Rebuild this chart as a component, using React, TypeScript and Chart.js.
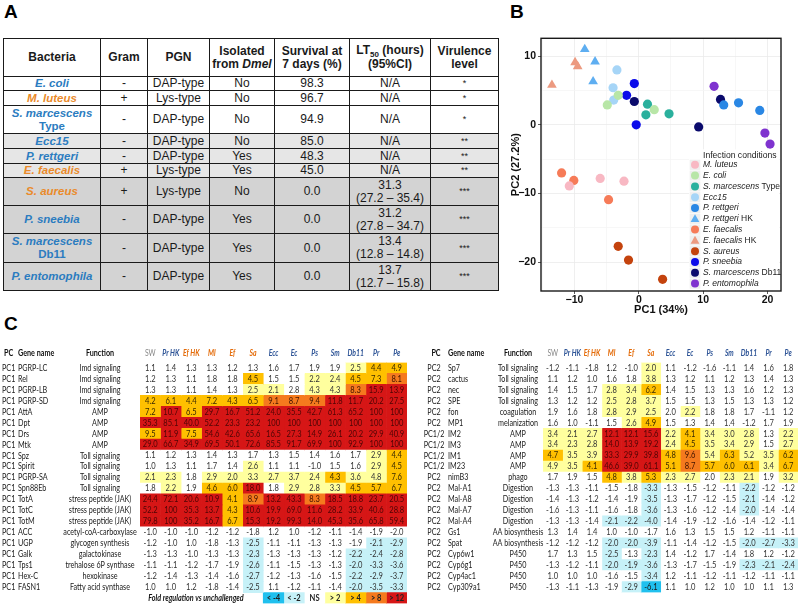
import React, { useEffect, useRef } from "react";
import { Chart, registerables } from "chart.js";
Chart.register(...registerables);

const SANS = '"Liberation Sans", Arial, sans-serif';
const CAL = 'Lato, "Open Sans", sans-serif';

// ---------------- Panel A data ----------------
const tableNames = ["E. coli", "M. luteus", "S. marcescens", "Ecc15", "P. rettgeri", "E. faecalis", "S. aureus", "P. sneebia", "S. marcescens", "P. entomophila"];
const tableNameSuffix = ["", "", "Type", "", "", "", "", "", "Db11", ""];
const gramStain = ["-", "+", "-", "-", "-", "+", "+", "-", "-", "-"];
const pgnType = ["DAP-type", "Lys-type", "DAP-type", "DAP-type", "DAP-type", "Lys-type", "Lys-type", "DAP-type", "DAP-type", "DAP-type"];
const isolatedFromDmel = ["No", "No", "No", "No", "Yes", "Yes", "No", "Yes", "Yes", "Yes"];
const survival7d = [98.3, 96.7, 94.9, 85.0, 48.3, 45.0, 0.0, 0.0, 0.0, 0.0];
const lt50 = [null, null, null, null, null, null, 31.3, 31.2, 13.4, 13.7];
const lt50Low = [null, null, null, null, null, null, 27.2, 27.8, 12.8, 12.7];
const lt50High = [null, null, null, null, null, null, 35.4, 34.7, 14.8, 15.8];
const virulence = [1, 1, 1, 2, 2, 2, 3, 3, 3, 3];

// ---------------- Panel B data ----------------
const pcaItalic = ["M. luteus", "E. coli", "S. marcescens", "Ecc15", "P. rettgeri", "P. rettgeri", "E. faecalis", "E. faecalis", "S. aureus", "P. sneebia", "S. marcescens", "P. entomophila"];
const pcaSuffix = ["", "", " Type", "", "", " HK", "", " HK", "", "", " Db11", ""];
const pcaColors = ["#F8B8C3", "#B8E6A7", "#2AB09D", "#A6D5F7", "#2A87E4", "#5EAEF1", "#F67B58", "#EC9A80", "#C4430D", "#0B0BEA", "#0A0A6C", "#7F33CF"];
const pcaShapes = ["circle", "circle", "circle", "circle", "circle", "triangle", "circle", "triangle", "circle", "circle", "circle", "circle"];
const pc1Values = [
  [-6.0, -2.3, -10.8],
  [-4.9, -3.2, 2.4],
  [1.35, 1.1, 4.7],
  [-3.4, -4.0, -3.9],
  [13.2, 15.5, 18.8],
  [-8.4, -6.8, -7.1],
  [-12.0, -10.1, -4.7],
  [-9.9, -9.5, -13.5],
  [-3.2, -1.6, 3.7],
  [-0.7, -1.9, -0.4],
  [-0.7, 12.7, 9.3],
  [11.7, 19.6, 20.4],
];
const pc2Values = [
  [-7.8, -8.2, -8.9],
  [2.9, 4.3, 2.2],
  [3.0, 1.45, 1.6],
  [8.0, 5.4, 3.6],
  [2.9, 3.2, 2.1],
  [11.0, 9.2, 6.3],
  [-7.0, -8.1, -10.9],
  [9.1, 8.5, 5.8],
  [-17.7, -19.7, -22.5],
  [6.0, 4.3, 0.0],
  [3.4, 3.7, -0.3],
  [5.6, -1.2, -2.8],
];
const pcaXTicks = [-15, -10, -5, 0, 5, 10, 15, 20];
const pcaYTicks = [-20, -15, -10, -5, 0, 5, 10];

// ---------------- Panel C data ----------------
const foldColumns = ["SW", "Pr HK", "Ef HK", "Ml", "Ef", "Sa", "Ecc", "Ec", "Ps", "Sm", "Db11", "Pr", "Pe"];
const foldColumnColors = ["#8a8a8a", "#2F5597", "#E46C0A", "#E46C0A", "#E46C0A", "#E46C0A", "#2F5597", "#2F5597", "#2F5597", "#2F5597", "#2F5597", "#2F5597", "#2F5597"];
const legendLabels = ["< -4", "< -2", "NS", "> 2", "> 4", "> 8", "> 12"];
const legendLevels = "Bb.1234";

const pc1Genes = ["PGRP-LC", "Rel", "PGRP-LB", "PGRP-SD", "AttA", "Dpt", "Drs", "Mtk", "Spz", "Spirit", "PGRP-SA", "Spn88Eb", "TotA", "TotC", "TotM", "ACC", "UGP", "Galk", "Tps1", "Hex-C", "FASN1"];
const pc1Pcs = pc1Genes.map(() => "PC1");
const pc1Functions = ["Imd signaling", "Imd signaling", "Imd signaling", "Imd signaling", "AMP", "AMP", "AMP", "AMP", "Toll signaling", "Toll signaling", "Toll signaling", "Toll signaling", "stress peptide (JAK)", "stress peptide (JAK)", "stress peptide (JAK)", "acetyl-coA-carboxylase", "glycogen synthesis", "galactokinase", "trehalose 6P synthase", "hexokinase", "Fatty acid synthase"];
const pc1Fold = [
  [1.1, 1.4, 1.3, 1.3, 1.2, 1.3, 1.6, 1.7, 1.9, 1.9, 2.5, 4.4, 4.9],
  [1.2, 1.3, 1.1, 1.8, 1.8, 4.5, 1.5, 1.5, 2.2, 2.4, 4.5, 7.3, 8.1],
  [1.3, 1.3, 1.1, 1.4, 1.3, 2.5, 2.1, 2.8, 4.3, 4.3, 8.3, 15.9, 13.9],
  [4.2, 6.1, 4.4, 7.2, 4.3, 6.5, 9.1, 8.7, 9.4, 11.8, 11.7, 20.2, 27.5],
  [7.2, 10.7, 6.5, 29.7, 16.7, 51.2, 24.0, 35.5, 42.7, 61.3, 65.2, 100, 100],
  [35.3, 85.1, 40.0, 52.2, 23.3, 23.2, 100, 100, 100, 100, 100, 100, 100],
  [9.5, 11.9, 7.5, 54.6, 42.6, 65.6, 16.5, 27.3, 14.9, 26.1, 20.2, 29.9, 40.9],
  [29.0, 66.7, 34.9, 69.5, 50.1, 72.6, 85.5, 91.7, 69.9, 100, 92.9, 100, 100],
  [1.1, 1.2, 1.3, 1.4, 1.3, 1.7, 1.3, 1.5, 1.4, 1.6, 1.7, 2.9, 4.4],
  [1.0, 1.3, 1.1, 1.7, 1.4, 2.6, 1.1, 1.1, -1.0, 1.5, 1.6, 2.9, 4.5],
  [2.1, 2.3, 1.8, 2.9, 2.0, 3.3, 2.7, 3.7, 2.4, 4.3, 3.6, 4.8, 7.6],
  [1.8, 2.2, 1.9, 4.6, 6.0, 18.0, 1.8, 2.9, 2.8, 3.3, 4.5, 5.7, 6.7],
  [24.4, 72.1, 20.6, 10.9, 4.1, 8.9, 13.2, 43.3, 8.3, 18.5, 18.8, 23.7, 20.5],
  [52.2, 100, 35.3, 13.7, 4.3, 10.6, 19.9, 69.0, 11.6, 28.2, 33.9, 40.6, 28.8],
  [79.8, 100, 35.2, 16.7, 6.7, 15.3, 19.2, 99.3, 14.0, 45.3, 35.6, 65.8, 59.4],
  [-1.0, -1.0, -1.0, -1.2, -1.2, -1.8, 1.2, 1.0, -1.2, -1.1, -1.4, -1.9, -2.0],
  [-1.2, -1.0, 1.0, -1.8, -1.3, -2.5, -1.1, -1.1, -1.3, -1.3, -1.9, -2.1, -2.9],
  [-1.3, -1.3, -1.0, -1.3, -1.3, -2.3, -1.3, -1.3, -1.3, -1.2, -2.2, -2.4, -2.8],
  [-1.1, -1.1, -1.2, -1.7, -1.9, -2.6, -1.1, -1.5, -1.3, -1.3, -2.0, -3.3, -3.6],
  [-1.2, -1.4, -1.3, -1.4, -1.6, -2.7, -1.2, -1.3, -1.6, -1.5, -2.2, -2.9, -3.7],
  [1.0, 1.0, 1.2, -1.8, -1.4, -2.5, 1.1, -1.2, -1.1, -1.4, -2.0, -3.5, -3.3],
];
const pc1Levels = [
  "..........122",
  ".....2..11223",
  ".....11.11344",
  "2222223334444",
  "2424444444444",
  "4444444444444",
  "2424444444444",
  "4444444444444",
  "...........12",
  ".....1.....12",
  "11.1111112112",
  ".1.224.111222",
  "4444234434444",
  "4444244444444",
  "4444244444444",
  ".............",
  ".....b.....bb",
  ".....b....bbb",
  ".....b....bbb",
  ".....b....bbb",
  ".....b....bbb",
];

const pc2Genes = ["Sp7", "cactus", "nec", "SPE", "fon", "MP1", "IM2", "IM3", "IM1", "IM23", "nimB3", "Mal-A1", "Mal-A8", "Mal-A7", "Mal-A4", "Gs1", "Spat", "Cyp6w1", "Cyp6g1", "Cyp4ac1", "Cyp309a1"];
const pc2Pcs = ["PC2", "PC2", "PC2", "PC2", "PC2", "PC2", "PC1/2", "PC1/2", "PC1/2", "PC1/2", "PC2", "PC2", "PC2", "PC2", "PC2", "PC2", "PC2", "PC2", "PC2", "PC2", "PC2"];
const pc2Functions = ["Toll signaling", "Toll signaling", "Toll signaling", "Toll signaling", "coagulation", "melanization", "AMP", "AMP", "AMP", "AMP", "phago", "Digestion", "Digestion", "Digestion", "Digestion", "AA biosynthesis", "AA biosynthesis", "P450", "P450", "P450", "P450"];
const pc2Fold = [
  [-1.2, -1.1, -1.8, 1.2, -1.0, 2.0, 1.1, -1.2, -1.6, -1.1, 1.4, 1.6, 1.8],
  [1.1, 1.2, 1.0, 1.6, 1.8, 3.8, 1.3, 1.2, 1.1, 1.2, 1.3, 1.4, 1.3],
  [1.4, 1.5, 1.7, 2.8, 3.4, 6.2, 1.4, 1.5, 1.3, 1.3, 1.6, 1.2, 1.3],
  [1.3, 1.2, 1.2, 2.5, 2.8, 3.7, 1.5, 1.5, 1.3, 1.5, 1.3, 1.3, 1.2],
  [1.9, 1.6, 1.8, 2.8, 2.9, 2.5, 2.0, 2.2, 1.8, 1.8, 1.7, -1.1, 1.2],
  [1.6, 1.0, -1.1, 1.5, 2.6, 4.9, 1.5, 1.3, 1.4, 1.4, -1.2, 1.7, 1.9],
  [3.4, 2.1, 2.7, 12.1, 12.1, 15.6, 2.2, 4.1, 3.4, 3.0, 2.8, 1.3, 2.2],
  [3.4, 2.3, 2.8, 14.0, 13.9, 19.2, 2.4, 4.5, 3.5, 3.4, 2.9, 1.5, 2.7],
  [4.7, 3.5, 3.9, 33.3, 29.9, 39.8, 4.8, 9.6, 5.4, 6.3, 5.2, 3.5, 6.2],
  [4.9, 3.5, 4.1, 46.6, 39.0, 61.1, 5.1, 8.7, 5.7, 6.0, 6.1, 3.4, 6.7],
  [1.7, 1.9, 1.5, 4.8, 3.8, 5.3, 2.3, 2.7, 2.0, 2.3, 2.1, 1.9, 3.2],
  [-1.3, -1.3, -1.1, -1.5, -1.8, -3.3, -1.3, -1.5, -1.2, -1.1, -2.2, -1.2, -1.2],
  [-1.4, -1.3, -1.2, -1.4, -1.9, -3.5, -1.3, -1.7, -1.2, -1.5, -2.1, -1.4, -1.2],
  [-1.6, -1.3, -1.1, -1.6, -1.8, -3.6, -1.3, -1.6, -1.2, -1.4, -2.0, -1.4, -1.4],
  [-1.3, -1.3, -1.4, -2.1, -2.2, -4.0, -1.4, -1.9, -1.2, -1.6, -1.4, -1.2, -1.1],
  [1.3, 1.4, 1.4, 1.0, -1.0, -1.7, 1.6, 1.3, 1.5, 1.5, 1.2, -1.1, -1.1],
  [-1.2, -1.2, -1.2, -2.0, -2.0, -3.9, -1.1, -1.4, -1.2, -1.5, -2.0, -2.7, -3.3],
  [1.7, 1.3, 1.5, -2.5, -1.3, -2.3, 1.4, -1.2, 1.7, -1.4, 1.8, 1.2, -1.2],
  [-1.3, -1.2, -1.1, -2.0, -1.9, -3.6, -1.3, -1.7, -1.5, -1.9, -2.3, -2.1, -2.4],
  [1.0, 1.0, 1.0, -1.6, -1.5, -3.4, 1.2, -1.1, -1.2, -1.1, -1.2, -1.1, -1.1],
  [-1.3, -1.1, -1.3, -1.9, -2.9, -6.1, 1.1, 1.0, 1.2, 1.0, 1.0, 1.1, 1.3],
];
const pc2Levels = [
  ".....1.......",
  ".....1.......",
  "...112.......",
  "...111.......",
  "...111.1.....",
  "....12.......",
  "11144412111.1",
  "11144412111.1",
  "2114442312112",
  "1124442322212",
  "...21211.11.1",
  ".....b....b..",
  ".....b....b..",
  ".....b....b..",
  "...bbb.......",
  ".............",
  "...bbb....bbb",
  "...b.b.......",
  "...bbb....bbb",
  ".....b.......",
  "....bB.......",
];

const levelFill: Record<string, string> = {
  B: "#20C0EE",
  b: "#C6F1F8",
  ".": "#FFFFFF",
  "1": "#FFFF9E",
  "2": "#FFC000",
  "3": "#F57A1E",
  "4": "#D61616",
};
const levelText: Record<string, string> = {
  B: "#1a1a1a",
  b: "#333333",
  ".": "#333333",
  "1": "#333333",
  "2": "#3a2a00",
  "3": "#3f1200",
  "4": "#4e0505",
};

function fmtFold(v: number) {
  return Math.abs(v) >= 100 ? String(v) : v.toFixed(1);
}
function fmtMinus(v: number) {
  return v < 0 ? "\u2212" + Math.abs(v) : String(v);
}
function squeezeText(ctx: CanvasRenderingContext2D, text: string, x: number, y: number, k: number) {
  const w = ctx.measureText(text).width;
  ctx.fillText(text, x, y, w * k);
}

// ---------------- PCA chart ----------------
function makePca(canvas: HTMLCanvasElement) {
  const decor = {
    id: "pcaDecor",
    afterDraw(chart: any) {
      const { ctx, chartArea: a } = chart;
      ctx.save();
      const lx = a.right - 92;
      const ly = a.top + 111;
      ctx.fillStyle = "#ffffff";
      ctx.fillRect(lx, ly, 90, a.bottom - ly - 1);
      ctx.textBaseline = "middle";
      ctx.textAlign = "left";
      ctx.fillStyle = "#222";
      ctx.font = `8.6px ${SANS}`;
      const textX = a.right - 78;
      ctx.fillText("Infection conditions", textX, a.top + 117);
      const keyCx = a.right - 86;
      for (let k = 0; k < pcaItalic.length; k++) {
        const cy = a.top + 126.5 + k * 10.8;
        ctx.fillStyle = "#efefef";
        ctx.fillRect(keyCx - 5.3, cy - 5.1, 10.6, 10.2);
        ctx.fillStyle = pcaColors[k];
        ctx.beginPath();
        if (pcaShapes[k] === "triangle") {
          ctx.moveTo(keyCx, cy - 4.6);
          ctx.lineTo(keyCx + 4.4, cy + 3.3);
          ctx.lineTo(keyCx - 4.4, cy + 3.3);
          ctx.closePath();
        } else {
          ctx.arc(keyCx, cy, 4, 0, Math.PI * 2);
        }
        ctx.fill();
        ctx.fillStyle = "#222";
        ctx.font = `italic 8.5px ${SANS}`;
        ctx.fillText(pcaItalic[k], textX, cy);
        if (pcaSuffix[k]) {
          const w = ctx.measureText(pcaItalic[k]).width;
          ctx.font = `8.5px ${SANS}`;
          ctx.fillText(pcaSuffix[k], textX + w, cy);
        }
      }
      ctx.strokeStyle = "#1a1a1a";
      ctx.lineWidth = 1.4;
      ctx.strokeRect(a.left, a.top, a.right - a.left, a.bottom - a.top);
      ctx.fillStyle = "#111";
      ctx.font = `bold 11px ${SANS}`;
      ctx.textAlign = "center";
      ctx.textBaseline = "middle";
      ctx.fillText("PC1 (34%)", (a.left + a.right) / 2, a.bottom + 19);
      ctx.translate(11, (a.top + a.bottom) / 2);
      ctx.rotate(-Math.PI / 2);
      ctx.fillText("PC2 (27.2%)", 0, 0);
      ctx.restore();
    },
  };
  const gridColor = (c: any) => (c.tick && c.tick.value % 10 === 0 ? "#ebebeb" : "#f5f5f5");
  const tickColor = (c: any) => (c.tick && c.tick.value % 10 === 0 ? "#333" : "rgba(0,0,0,0)");
  return new Chart(canvas, {
    type: "scatter",
    data: {
      datasets: pcaItalic.map((name, k) => ({
        label: name + pcaSuffix[k],
        data: pc1Values[k].map((x, i) => ({ x, y: pc2Values[k][i] })),
        backgroundColor: pcaColors[k],
        borderWidth: 0,
        pointStyle: pcaShapes[k] as any,
        pointRadius: pcaShapes[k] === "triangle" ? 5.6 : 4.6,
        pointHoverRadius: pcaShapes[k] === "triangle" ? 5.6 : 4.6,
      })),
    },
    options: {
      animation: false,
      responsive: false,
      events: [],
      layout: { padding: { top: 8, right: 19, left: 0, bottom: 0 } },
      plugins: { legend: { display: false }, tooltip: { enabled: false } },
      scales: {
        x: {
          type: "linear",
          min: -15.2,
          max: 22.1,
          afterBuildTicks: (s: any) => {
            s.ticks = pcaXTicks.map((v) => ({ value: v }));
          },
          afterFit: (s: any) => {
            s.height = 34;
          },
          ticks: {
            autoSkip: false,
            maxRotation: 0,
            padding: 0,
            color: "#111",
            font: { family: SANS, size: 10.5, weight: "bold" },
            callback: (v: any) => (v % 10 === 0 ? fmtMinus(v) : ""),
          },
          grid: { color: gridColor, tickColor, tickLength: 3, lineWidth: 0.8 },
          border: { display: false },
        },
        y: {
          type: "linear",
          min: -24.2,
          max: 12.6,
          afterBuildTicks: (s: any) => {
            s.ticks = pcaYTicks.map((v) => ({ value: v }));
          },
          afterFit: (s: any) => {
            s.width = 36;
          },
          ticks: {
            autoSkip: false,
            padding: 2,
            color: "#111",
            font: { family: SANS, size: 10.5, weight: "bold" },
            callback: (v: any) => (v % 10 === 0 ? fmtMinus(v) : ""),
          },
          grid: { color: gridColor, tickColor, tickLength: 3, lineWidth: 0.8 },
          border: { display: false },
        },
      },
    } as any,
    plugins: [decor],
  });
}

// ---------------- Heatmap charts ----------------
type HeatCfg = {
  pcs: string[];
  genes: string[];
  funcs: string[];
  values: number[][];
  levels: string[];
  withLegend: boolean;
  padding: { left: number; right: number; top: number; bottom: number };
  pcX: number;
  pcAlign: CanvasTextAlign;
  pcHeaderX: number;
  geneX: number;
  funcX: number;
  legendTitleX: number;
};

function makeHeat(canvas: HTMLCanvasElement, cfg: HeatCfg) {
  const nGenes = cfg.genes.length;
  const rowLabels = cfg.withLegend ? [...cfg.genes, "legend"] : [...cfg.genes];
  const legendStart = foldColumns.length - legendLabels.length;
  const levelAt = (i: number, j: number) =>
    i < nGenes ? cfg.levels[i][j] : j >= legendStart ? legendLevels[j - legendStart] : ".";
  const datasets = foldColumns.map((col, j) => ({
    label: col,
    data: rowLabels.map((_, i) => (i < nGenes || j >= legendStart ? [j - 0.5, j + 0.5] : null)),
    backgroundColor: rowLabels.map((_, i) => levelFill[levelAt(i, j)]),
    borderWidth: 0,
    barPercentage: 1,
    categoryPercentage: 1,
    grouped: false,
  }));
  const SQ = 0.8;
  const LF = `9px ${CAL}`;
  const textPlugin = {
    id: "heatText",
    afterDatasetsDraw(chart: any) {
      const { ctx, chartArea: a, scales } = chart;
      const xs = scales.x;
      const ys = scales.y;
      ctx.save();
      ctx.textBaseline = "middle";
      const hy = a.top - 9.5;
      ctx.fillStyle = "#111";
      ctx.font = `bold ${LF}`;
      ctx.textAlign = cfg.pcAlign;
      squeezeText(ctx, "PC", cfg.pcHeaderX, hy, SQ);
      ctx.textAlign = "left";
      squeezeText(ctx, "Gene name", cfg.geneX, hy, SQ);
      ctx.textAlign = "center";
      squeezeText(ctx, "Function", cfg.funcX, hy, SQ);
      foldColumns.forEach((c, j) => {
        ctx.fillStyle = foldColumnColors[j];
        ctx.font = j === 0 ? LF : `bold italic ${LF}`;
        squeezeText(ctx, c, xs.getPixelForValue(j), hy, 0.76);
      });
      cfg.genes.forEach((g, i) => {
        const yy = ys.getPixelForValue(i);
        ctx.fillStyle = "#1a1a1a";
        ctx.font = LF;
        ctx.textAlign = cfg.pcAlign;
        squeezeText(ctx, cfg.pcs[i], cfg.pcX, yy, SQ);
        ctx.textAlign = "left";
        squeezeText(ctx, g, cfg.geneX, yy, SQ);
        ctx.textAlign = "center";
        squeezeText(ctx, cfg.funcs[i], cfg.funcX, yy, SQ);
      });
      ctx.textAlign = "center";
      chart.data.datasets.forEach((ds: any, j: number) => {
        const meta = chart.getDatasetMeta(j);
        meta.data.forEach((el: any, i: number) => {
          if (ds.data[i] == null) return;
          const cx = (el.x + el.base) / 2;
          const cy = el.y;
          const lv = levelAt(i, j);
          ctx.fillStyle = levelText[lv];
          if (i < nGenes) {
            ctx.font = `8.8px ${CAL}`;
            squeezeText(ctx, fmtFold(cfg.values[i][j]), cx, cy, 0.86);
          } else {
            ctx.font = `bold 8.8px ${CAL}`;
            ctx.fillStyle = "#222";
            squeezeText(ctx, legendLabels[j - legendStart], cx, cy, 0.86);
          }
        });
      });
      if (cfg.withLegend) {
        ctx.fillStyle = "#111";
        ctx.font = `bold italic ${LF}`;
        squeezeText(ctx, "Fold regulation vs unchallenged", cfg.legendTitleX, ys.getPixelForValue(nGenes), SQ);
      }
      ctx.restore();
    },
  };
  return new Chart(canvas, {
    type: "bar",
    data: { labels: rowLabels, datasets: datasets as any },
    options: {
      animation: false,
      responsive: false,
      events: [],
      indexAxis: "y",
      layout: { padding: cfg.padding },
      plugins: { legend: { display: false }, tooltip: { enabled: false } },
      scales: {
        x: { type: "linear", min: -0.5, max: 12.5, display: false },
        y: { type: "category", display: false, offset: true },
      },
    } as any,
    plugins: [textPlugin],
  });
}

const leftHeat: HeatCfg = {
  pcs: pc1Pcs,
  genes: pc1Genes,
  funcs: pc1Functions,
  values: pc1Fold,
  levels: pc1Levels,
  withLegend: true,
  padding: { left: 140, right: 3, top: 22.5, bottom: 0.5 },
  pcX: 2,
  pcAlign: "left",
  pcHeaderX: 4,
  geneX: 18,
  funcX: 100,
  legendTitleX: 196,
};
const rightHeat: HeatCfg = {
  pcs: pc2Pcs,
  genes: pc2Genes,
  funcs: pc2Functions,
  values: pc2Fold,
  levels: pc2Levels,
  withLegend: false,
  padding: { left: 133, right: 2, top: 22.5, bottom: 11.5 },
  pcX: 24,
  pcAlign: "center",
  pcHeaderX: 26,
  geneX: 38,
  funcX: 108,
  legendTitleX: 0,
};

// ---------------- Table A ----------------
const colWidthsA = [97, 47, 62, 65, 75, 81, 68];
const rowHeightsA = [14, 15, 28, 15, 15, 14, 28, 28, 29, 28];
const rowBgByVirulence: Record<number, string> = { 1: "#ffffff", 2: "#e6e6e6", 3: "#d3d3d3" };
const BLUE = "#2B7CC0";
const ORANGE = "#EA8A2A";

function TableA() {
  const bd = "1.6px solid #1a1a1a";
  const cell: React.CSSProperties = { border: bd, padding: 0, textAlign: "center", verticalAlign: "middle" };
  return (
    <table
      style={{
        position: "absolute",
        left: 3,
        top: 38,
        width: 495,
        borderCollapse: "collapse",
        tableLayout: "fixed",
        fontFamily: SANS,
        fontSize: 12,
        lineHeight: "13px",
        color: "#1a1a1a",
      }}
    >
      <colgroup>
        {colWidthsA.map((w, i) => (
          <col key={i} style={{ width: w }} />
        ))}
      </colgroup>
      <thead>
        <tr style={{ height: 38, fontWeight: "bold" }}>
          <td style={cell}>Bacteria</td>
          <td style={cell}>Gram</td>
          <td style={cell}>PGN</td>
          <td style={cell}>
            Isolated
            <br />
            from <i>Dmel</i>
          </td>
          <td style={cell}>
            Survival at
            <br />7 days (%)
          </td>
          <td style={cell}>
            LT<span style={{ fontSize: 8, position: "relative", top: 3 }}>50</span> (hours)
            <br />
            (95%CI)
          </td>
          <td style={cell}>
            Virulence
            <br />
            level
          </td>
        </tr>
      </thead>
      <tbody>
        {tableNames.map((n, i) => (
          <tr key={i} style={{ height: rowHeightsA[i], background: rowBgByVirulence[virulence[i]] }}>
            <td style={{ ...cell, fontWeight: "bold", color: gramStain[i] === "+" ? ORANGE : BLUE }}>
              <span style={{ fontStyle: "italic", fontSize: 11.5 }}>{n}</span>
              {tableNameSuffix[i] ? (
                <>
                  <br />
                  <span style={{ fontSize: 11.5 }}>{tableNameSuffix[i]}</span>
                </>
              ) : null}
            </td>
            <td style={cell}>{gramStain[i]}</td>
            <td style={cell}>{pgnType[i]}</td>
            <td style={cell}>{isolatedFromDmel[i]}</td>
            <td style={cell}>{survival7d[i].toFixed(1)}</td>
            <td style={cell}>
              {lt50[i] == null ? (
                "N/A"
              ) : (
                <>
                  {(lt50[i] as number).toFixed(1)}
                  <br />({(lt50Low[i] as number).toFixed(1)} – {(lt50High[i] as number).toFixed(1)})
                </>
              )}
            </td>
            <td style={{ ...cell, fontSize: 9 }}>{"*".repeat(virulence[i])}</td>
          </tr>
        ))}
      </tbody>
    </table>
  );
}

const panelLabel = (left: number, top: number): React.CSSProperties => ({
  position: "absolute",
  left,
  top,
  fontFamily: SANS,
  fontWeight: "bold",
  fontSize: 19,
  lineHeight: "19px",
  color: "#000",
});

export default function App() {
  const bRef = useRef<HTMLCanvasElement>(null);
  const c1Ref = useRef<HTMLCanvasElement>(null);
  const c2Ref = useRef<HTMLCanvasElement>(null);
  useEffect(() => {
    const charts = [
      makePca(bRef.current as HTMLCanvasElement),
      makeHeat(c1Ref.current as HTMLCanvasElement, leftHeat),
      makeHeat(c2Ref.current as HTMLCanvasElement, rightHeat),
    ];
    return () => charts.forEach((c) => c.destroy());
  }, []);
  return (
    <div style={{ position: "absolute", left: 0, top: 0, width: 800, height: 604, background: "#fff", overflow: "hidden" }}>
      <div style={panelLabel(4, 2)}>A</div>
      <div style={panelLabel(510, 2)}>B</div>
      <div style={panelLabel(4, 314)}>C</div>
      <TableA />
      <canvas ref={bRef} width={295} height={295} style={{ position: "absolute", left: 505, top: 30, width: 295, height: 295 }} />
      <canvas ref={c1Ref} width={410} height={264} style={{ position: "absolute", left: 0, top: 340, width: 410, height: 264 }} />
      <canvas ref={c2Ref} width={390} height={264} style={{ position: "absolute", left: 410, top: 340, width: 390, height: 264 }} />
    </div>
  );
}
